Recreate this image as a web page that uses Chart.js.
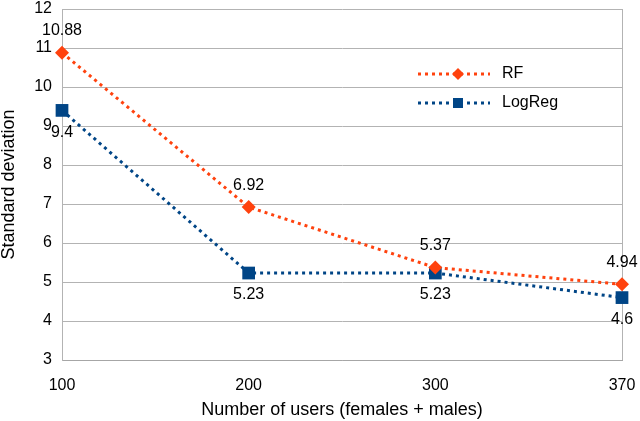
<!DOCTYPE html>
<html>
<head>
<meta charset="utf-8">
<script src="https://cdn.jsdelivr.net/npm/chart.js@4"></script>
<style>
  html, body { margin: 0; padding: 0; background: #fff; }
  #wrap { width: 640px; height: 421px; }
</style>
</head>
<body>
<div id="wrap"><canvas id="sdChart"></canvas></div>
<script>
const users = ['100', '200', '300', '370'];
const rfValues = [10.88, 6.92, 5.37, 4.94];
const logRegValues = [9.4, 5.23, 5.23, 4.6];
const yTicks = [3, 4, 5, 6, 7, 8, 9, 10, 11, 12];

const RF_COLOR = '#ff420e';
const LOGREG_COLOR = '#004586';
const FONT = '"Liberation Sans", Arial, sans-serif';

Chart.defaults.font.family = FONT;
Chart.defaults.font.size = 16;
Chart.defaults.color = '#000';

// value labels next to each point
const valueLabels = {
    id: 'valueLabels',
    afterDatasetsDraw(chart) {
        const ctx = chart.ctx;
        ctx.save();
        ctx.font = '16px ' + FONT;
        ctx.fillStyle = '#000';
        ctx.textAlign = 'center';
        ctx.textBaseline = 'middle';
        chart.data.datasets.forEach((ds, i) => {
            const meta = chart.getDatasetMeta(i);
            meta.data.forEach((pt, j) => {
                const off = ds.labelPos === 'above' ? -22 : 22;
                ctx.fillText(String(ds.data[j]), pt.x, pt.y + off);
            });
        });
        ctx.restore();
    }
};

// legend drawn inside the plot, with dotted line + marker
const innerLegend = {
    id: 'innerLegend',
    afterDraw(chart) {
        const ctx = chart.ctx;
        const rows = [74, 103];
        ctx.save();
        chart.data.datasets.forEach((ds, i) => {
            const y = rows[i];
            ctx.strokeStyle = ds.borderColor;
            ctx.lineWidth = 3;
            ctx.setLineDash([3, 4]);
            ctx.beginPath();
            ctx.moveTo(418, y);
            ctx.lineTo(490, y);
            ctx.stroke();
            ctx.setLineDash([]);
            ctx.fillStyle = ds.borderColor;
            const r = 6;
            ctx.beginPath();
            if (ds.pointStyle === 'rectRot') {
                ctx.moveTo(458, y - r);
                ctx.lineTo(458 + r, y);
                ctx.lineTo(458, y + r);
                ctx.lineTo(458 - r, y);
                ctx.closePath();
            } else {
                ctx.rect(458 - 5, y - 5, 10, 10);
            }
            ctx.fill();
            ctx.fillStyle = '#000';
            ctx.font = '16px ' + FONT;
            ctx.textAlign = 'left';
            ctx.textBaseline = 'middle';
            ctx.fillText(ds.label, 502, y);
        });
        ctx.restore();
    }
};

const ctx = document.getElementById('sdChart').getContext('2d');

const sdChart = new Chart(ctx, {
    type: 'line',
    data: {
        labels: users,
        datasets: [{
            label: 'RF',
            data: rfValues,
            borderColor: RF_COLOR,
            backgroundColor: RF_COLOR,
            borderWidth: 3,
            borderDash: [3, 4],
            pointStyle: 'rectRot',
            pointRadius: 7,
            pointBorderWidth: 0,
            tension: 0,
            labelPos: 'above'
        }, {
            label: 'LogReg',
            data: logRegValues,
            borderColor: LOGREG_COLOR,
            backgroundColor: LOGREG_COLOR,
            borderWidth: 3,
            borderDash: [3, 4],
            pointStyle: 'rect',
            pointRadius: 9,
            pointBorderWidth: 0,
            tension: 0,
            labelPos: 'below'
        }]
    },
    options: {
        responsive: true,
        maintainAspectRatio: false,
        animation: false,
        layout: { padding: { top: 8, right: 18, left: 0, bottom: 0 } },
        plugins: {
            legend: { display: false },
            tooltip: { enabled: false }
        },
        scales: {
            x: {
                offset: false,
                grid: { display: false },
                border: { display: true, color: '#a6a6a6', width: 1 },
                ticks: { padding: 8, maxRotation: 0 },
                title: {
                    display: true,
                    text: 'Number of users (females + males)',
                    font: { size: 18 },
                    padding: { top: 0, bottom: 0 }
                },
                afterFit(scale) {
                    scale.height = 61;
                    scale.paddingRight = 0;
                }
            },
            y: {
                min: 3,
                max: 12,
                afterBuildTicks(scale) {
                    scale.ticks = yTicks.map(v => ({ value: v }));
                },
                grid: { color: '#b3b3b3', drawTicks: false },
                border: { display: true, color: '#b3b3b3' },
                ticks: { padding: 10 },
                title: {
                    display: true,
                    text: 'Standard deviation',
                    font: { size: 18 },
                    padding: { top: -2, bottom: 0 }
                },
                afterFit(scale) {
                    scale.width = 62;
                    scale.paddingTop = 0;
                    scale.paddingBottom = 0;
                }
            }
        }
    },
    plugins: [valueLabels, innerLegend, {
        id: 'rightBorder',
        beforeDatasetsDraw(chart) {
            const a = chart.chartArea;
            const c = chart.ctx;
            c.save();
            c.strokeStyle = '#b3b3b3';
            c.lineWidth = 1;
            c.beginPath();
            c.moveTo(a.right + 0.5, a.top);
            c.lineTo(a.right + 0.5, a.bottom);
            c.stroke();
            c.restore();
        }
    }]
});
</script>
</body>
</html>
